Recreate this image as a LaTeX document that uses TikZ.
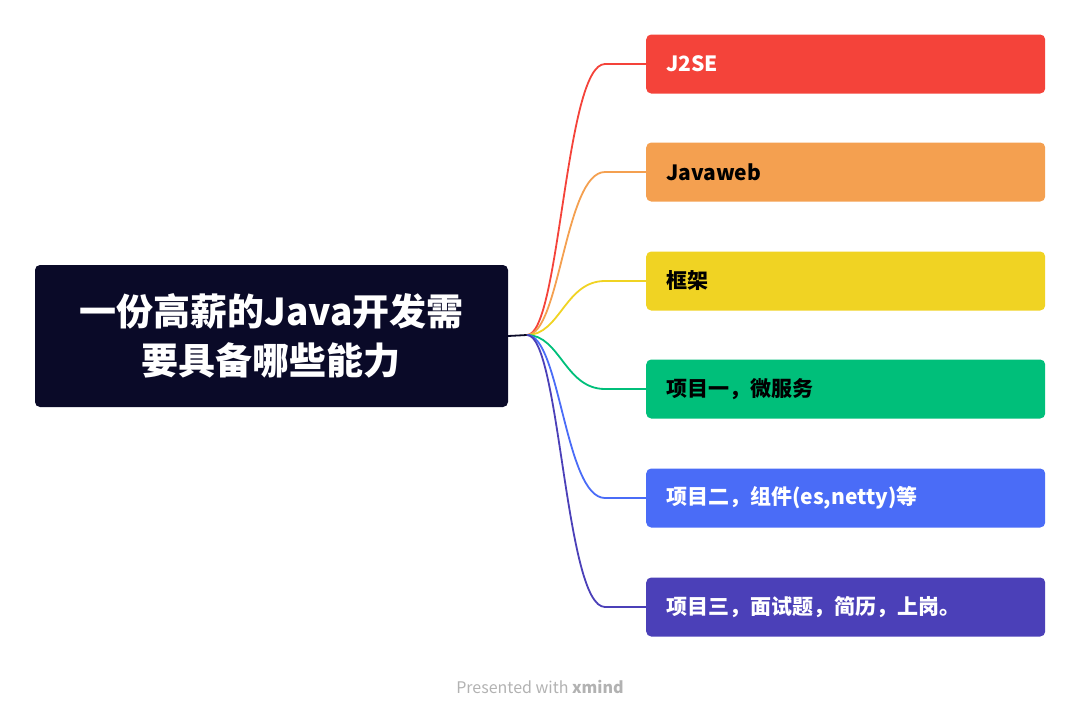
\documentclass[tikz,border=0pt]{standalone}
\usepackage{fontspec}
\setmainfont{Noto Sans CJK SC}
\begin{document}
\begin{tikzpicture}[x=1pt,y=-1pt,
 br/.style={rounded corners=5pt,minimum width=399pt,minimum height=59pt,anchor=west,text width=359pt,inner xsep=20pt,align=left,font=\fontsize{21}{24}\selectfont\bfseries},
 con/.style={line width=1.8pt}]
\useasboundingbox (0,0) rectangle (1080,720);
\definecolor{c1}{HTML}{F4433A}\definecolor{c2}{HTML}{F4A050}\definecolor{c3}{HTML}{F0D323}
\definecolor{c4}{HTML}{00BF7A}\definecolor{c5}{HTML}{4A6CF7}\definecolor{c6}{HTML}{4B40B8}
\definecolor{root}{HTML}{0A0A28}
\node[fill=root,rounded corners=5pt,minimum width=473pt,minimum height=142pt,text=white,align=center,font=\fontsize{37}{49}\selectfont\bfseries] (r) at (271.5,336) {一份高薪的Java开发需\\要具备哪些能力};
\coordinate (h) at (527,335);
\draw[con,root] (r.east) -- (h);
\foreach \n/\y/\c/\t/\txt in {a/64/c1/white/J2SE,b/172/c2/black/Javaweb,c/281/c3/black/框架,d/389/c4/black/{项目一，微服务},e/498/c5/white/{项目二，组件(es,netty)等},f/607/c6/white/{项目三，面试题，简历，上岗。}}{
 \node[br,fill=\c,text=\t] (\n) at (646,\y) {\txt};
 \draw[con,\c] (h) .. controls (560,335) and (565,\y) .. (605,\y) -- (\n.west);
}
\node[text=black!30,font=\fontsize{16}{18}\selectfont] (p) at (540,687) {Presented with \textbf{xmind}};
\end{tikzpicture}
\end{document}
